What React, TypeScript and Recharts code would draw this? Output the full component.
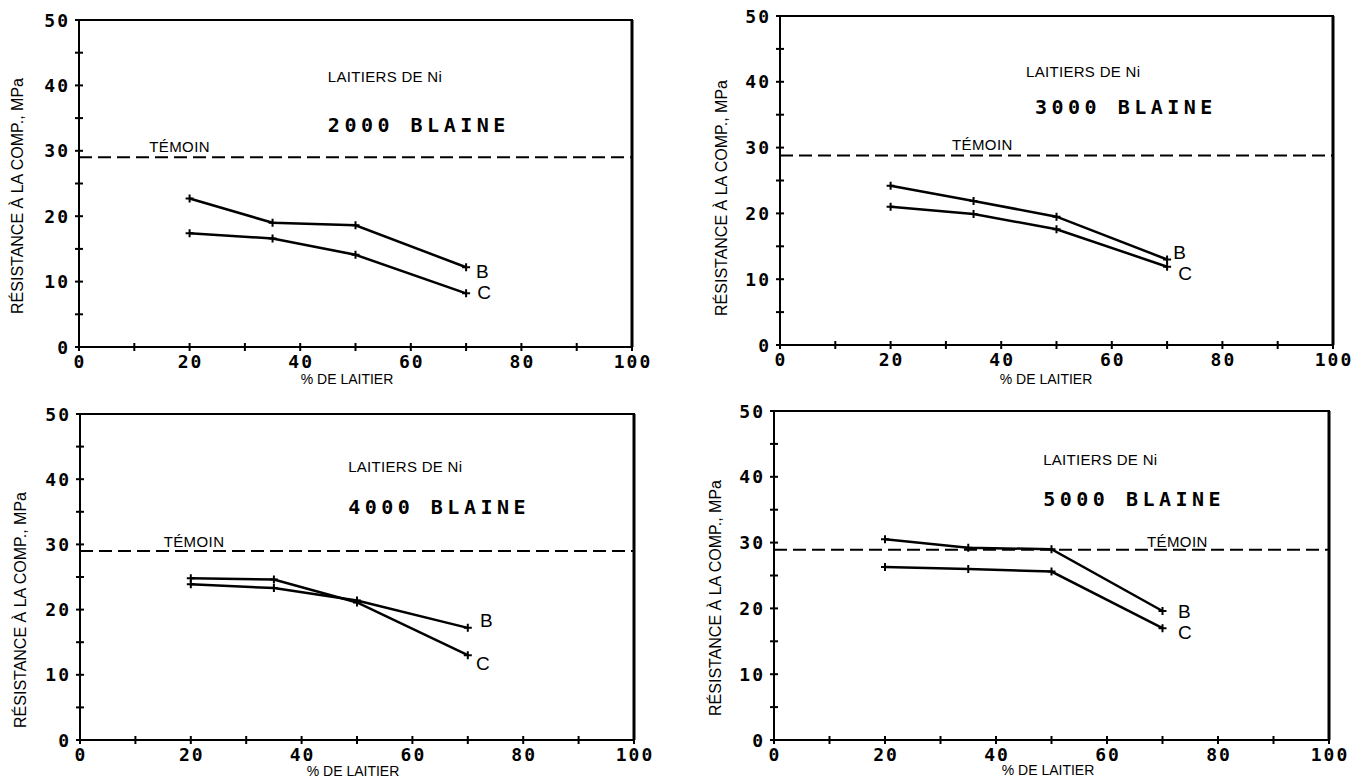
import {
  LineChart,
  Line,
  XAxis,
  YAxis,
  ReferenceLine,
  ReferenceArea,
  ReferenceDot,
} from 'recharts';

// % de laitier (x) and compressive strength (MPa)
const slagPct = [20, 35, 50, 70];

const blaine2000B = [22.7, 19.0, 18.6, 12.2];
const blaine2000C = [17.4, 16.6, 14.1, 8.2];
const blaine3000B = [24.2, 21.9, 19.5, 13.0];
const blaine3000C = [21.0, 19.9, 17.6, 11.9];
const blaine4000B = [23.9, 23.3, 21.4, 17.2];
const blaine4000C = [24.8, 24.6, 21.1, 13.0];
const blaine5000B = [30.5, 29.2, 29.0, 19.6];
const blaine5000C = [26.3, 26.0, 25.6, 17.0];

const temoinLevels = [29.0, 28.8, 29.0, 28.9];
const panelTitles = ['2000 BLAINE', '3000 BLAINE', '4000 BLAINE', '5000 BLAINE'];

const xTicks = [0, 10, 20, 30, 40, 50, 60, 70, 80, 90, 100];
const yTicks = [0, 5, 10, 15, 20, 25, 30, 35, 40, 45, 50];

const series = [
  [blaine2000B, blaine2000C],
  [blaine3000B, blaine3000C],
  [blaine4000B, blaine4000C],
  [blaine5000B, blaine5000C],
];

// plot-area placement on the page (px)
const LAYOUT = [
  { left: 79, top: 20, w: 553, h: 327, yTitleX: 17, yTitleY: 196, xTitleX: 347, xTitleY: 379 },
  { left: 780, top: 16, w: 553, h: 329, yTitleX: 721, yTitleY: 198, xTitleX: 1046, xTitleY: 379 },
  { left: 80, top: 414, w: 554, h: 326, yTitleX: 20, yTitleY: 610, xTitleX: 353, xTitleY: 771 },
  { left: 774, top: 411, w: 555, h: 329, yTitleX: 715, yTitleY: 598, xTitleX: 1048, xTitleY: 770 },
];

// annotation anchors in data units [x, y]
const NOTES = [
  { laitiers: [45, 41.3], blaine: [45, 33.9], temoin: [12.7, 30.6], b: [71.8, 11.5], c: [72, 8.4] },
  { laitiers: [44.5, 41.5], blaine: [46.1, 36.2], temoin: [31.1, 30.4], b: [71.1, 14], c: [72, 10.9] },
  { laitiers: [48.4, 41.9], blaine: [48.4, 35.7], temoin: [15.1, 30.5], b: [72.2, 18.4], c: [71.5, 11.8] },
  { laitiers: [48.5, 42.6], blaine: [48.5, 36.6], temoin: [67.2, 30.2], b: [72.8, 19.6], c: [72.8, 16.3] },
];

const MONO = '"DejaVu Sans Mono", monospace';
const SANS = '"Liberation Sans", Arial, sans-serif';
const AX_W = 80;
const M_TOP = 10;
const M_RIGHT = 20;
const AX_H = 50;

const XTick = (props: any) => {
  const { x, y, payload } = props;
  const v = payload.value;
  return (
    <g>
      <line x1={x} x2={x} y1={y - 4} y2={y + 4} stroke="#000" strokeWidth={2} />
      {v % 20 === 0 && (
        <text
          x={x + 1}
          y={y + 14}
          textAnchor="middle"
          dominantBaseline="central"
          fontFamily={MONO}
          fontWeight="bold"
          fontSize={18}
          letterSpacing={2}
          fill="#000"
        >
          {v}
        </text>
      )}
    </g>
  );
};

const YTick = (props: any) => {
  const { x, y, payload } = props;
  const v = payload.value;
  return (
    <g>
      <line x1={x - 4} x2={x + 4} y1={y} y2={y} stroke="#000" strokeWidth={2} />
      {v % 10 === 0 && (
        <text
          x={x - 9}
          y={y}
          textAnchor="end"
          dominantBaseline="central"
          fontFamily={MONO}
          fontWeight="bold"
          fontSize={18}
          letterSpacing={2}
          fill="#000"
        >
          {v}
        </text>
      )}
    </g>
  );
};

const Cross = (props: any) => {
  const { cx, cy, index } = props;
  if (cx == null || cy == null) return <g key={index} />;
  return (
    <path
      key={index}
      d={`M${cx - 4},${cy}h8M${cx},${cy - 4}v8`}
      stroke="#000"
      strokeWidth={2}
      fill="none"
    />
  );
};

const note = (text: string, style: any) => (props: any) => {
  const vb = props.viewBox || {};
  const x = vb.x + (vb.width || 0) / 2;
  const y = vb.y + (vb.height || 0) / 2;
  return (
    <text x={x} y={y} dominantBaseline="central" fill="#000" {...style}>
      {text}
    </text>
  );
};

function Panel({ idx }: { idx: number }) {
  const lay = LAYOUT[idx];
  const n = NOTES[idx];
  const [bVals, cVals] = series[idx];
  const data = slagPct.map((s, i) => ({ slag: s, B: bVals[i], C: cVals[i] }));

  const chartLeft = lay.left - AX_W;
  const chartTop = lay.top - M_TOP;
  const width = AX_W + lay.w + M_RIGHT;
  const height = M_TOP + lay.h + AX_H;

  const yTitle = () => (
    <text
      x={lay.yTitleX - chartLeft}
      y={lay.yTitleY - chartTop}
      transform={`rotate(-90 ${lay.yTitleX - chartLeft} ${lay.yTitleY - chartTop})`}
      textAnchor="middle"
      dominantBaseline="central"
      fontFamily={SANS}
      fontSize={16}
      fill="#000"
    >
      RÉSISTANCE À LA COMP., MPa
    </text>
  );

  const xTitle = () => (
    <text
      x={lay.xTitleX - chartLeft}
      y={lay.xTitleY - chartTop}
      textAnchor="middle"
      dominantBaseline="central"
      fontFamily={SANS}
      fontSize={14}
      fill="#000"
    >
      % DE LAITIER
    </text>
  );

  const dotProps = { r: 1, fill: 'none', stroke: 'none' };

  return (
    <div style={{ position: 'absolute', left: chartLeft, top: chartTop }}>
      <LineChart
        width={width}
        height={height}
        data={data}
        margin={{ top: M_TOP, right: M_RIGHT, bottom: 0, left: 0 }}
      >
        <XAxis
          dataKey="slag"
          type="number"
          domain={[0, 100]}
          ticks={xTicks}
          interval={0}
          height={AX_H}
          tickSize={0}
          tickMargin={0}
          tickLine={false}
          axisLine={{ stroke: '#000', strokeWidth: 2 }}
          tick={<XTick />}
          label={xTitle}
        />
        <YAxis
          type="number"
          domain={[0, 50]}
          ticks={yTicks}
          interval={0}
          width={AX_W}
          tickSize={0}
          tickMargin={0}
          tickLine={false}
          axisLine={{ stroke: '#000', strokeWidth: 2 }}
          tick={<YTick />}
          label={yTitle}
        />
        <ReferenceArea x1={0} x2={100} y1={0} y2={50} fill="none" stroke="#000" strokeWidth={2} />
        <ReferenceLine x={100} stroke="#000" strokeWidth={3} />
        <ReferenceLine
          y={temoinLevels[idx]}
          stroke="#000"
          strokeWidth={2}
          strokeDasharray="13 6"
        />
        <Line
          type="linear"
          dataKey="B"
          stroke="#000"
          strokeWidth={2.5}
          dot={<Cross />}
          activeDot={false}
          isAnimationActive={false}
        />
        <Line
          type="linear"
          dataKey="C"
          stroke="#000"
          strokeWidth={2.5}
          dot={<Cross />}
          activeDot={false}
          isAnimationActive={false}
        />
        <ReferenceDot
          x={n.laitiers[0]}
          y={n.laitiers[1]}
          {...dotProps}
          label={note('LAITIERS DE Ni', { fontFamily: SANS, fontSize: 15, letterSpacing: 0.3 })}
        />
        <ReferenceDot
          x={n.blaine[0]}
          y={n.blaine[1]}
          {...dotProps}
          label={note(panelTitles[idx], {
            fontFamily: MONO,
            fontWeight: 'bold',
            fontSize: 20,
            letterSpacing: 4.5,
          })}
        />
        <ReferenceDot
          x={n.temoin[0]}
          y={n.temoin[1]}
          {...dotProps}
          label={note('TÉMOIN', { fontFamily: SANS, fontSize: 15, letterSpacing: 0.4 })}
        />
        <ReferenceDot
          x={n.b[0]}
          y={n.b[1]}
          {...dotProps}
          label={note('B', { fontFamily: SANS, fontSize: 19 })}
        />
        <ReferenceDot
          x={n.c[0]}
          y={n.c[1]}
          {...dotProps}
          label={note('C', { fontFamily: SANS, fontSize: 19 })}
        />
      </LineChart>
    </div>
  );
}

export default function App() {
  return (
    <div
      style={{
        position: 'absolute',
        left: 0,
        top: 0,
        width: 1360,
        height: 779,
        background: '#fff',
        overflow: 'hidden',
      }}
    >
      {[0, 1, 2, 3].map((i) => (
        <Panel key={i} idx={i} />
      ))}
    </div>
  );
}
